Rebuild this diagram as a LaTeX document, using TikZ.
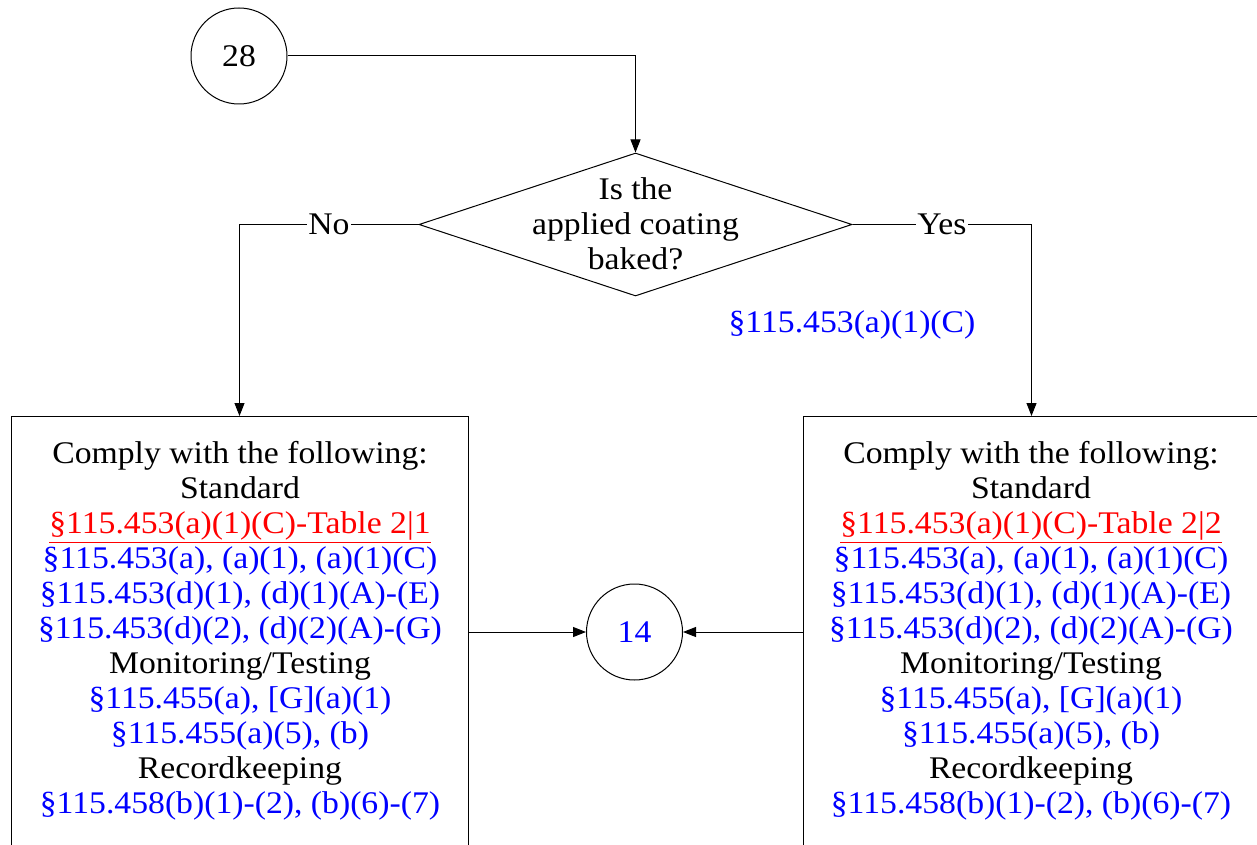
\documentclass[tikz,border=0pt]{standalone}
\usepackage{fontspec}
\setmainfont{Liberation Serif}[FakeStretch=1.07]
\usetikzlibrary{arrows.meta,shapes.geometric}
\definecolor{refblue}{RGB}{0,0,255}
\definecolor{refred}{RGB}{255,0,0}
\newcommand{\bl}[1]{\textcolor{refblue}{#1}}
\newcommand{\rd}[1]{\textcolor{refred}{\underline{#1}}}
\begin{document}
\begin{tikzpicture}[x=1pt,y=-1pt,
  line width=1pt,
  every node/.style={font=\fontsize{31.5}{35}\selectfont},
  conn/.style={draw, -{Triangle[length=13pt,width=10pt]}},
  lbl/.style={fill=white, inner sep=1pt},
  txt/.style={align=center, inner sep=0pt}
]
\useasboundingbox (0,0) rectangle (1257,845);
\node[circle, draw, minimum size=96, inner sep=0] (c28) at (239,56) {28};
\node[diamond, draw, minimum width=433, minimum height=143, inner sep=0, aspect=3] (q) at (635.5,224.5) {};
\node[txt] (qt) at (635.5,224) {Is the\\applied coating\\baked?};
\node[draw, rectangle, minimum width=457, minimum height=500, anchor=north] (L) at (239.5,416) {};
\node[draw, rectangle, minimum width=457, minimum height=500, anchor=north] (R) at (1031.5,416) {};
\node[circle, draw, minimum size=96, inner sep=0, text=refblue] (c14) at (634.5,632) {14};
\node[txt] (Lt) at (240,631) {Comply with the following:\\Standard\\\rd{§115.453(a)(1)(C)-Table 2|1}\\\bl{§115.453(a), (a)(1), (a)(1)(C)}\\\bl{§115.453(d)(1), (d)(1)(A)-(E)}\\\bl{§115.453(d)(2), (d)(2)(A)-(G)}\\Monitoring/Testing\\\bl{§115.455(a), [G](a)(1)}\\\bl{§115.455(a)(5), (b)}\\Recordkeeping\\\bl{§115.458(b)(1)-(2), (b)(6)-(7)}};
\node[txt] (Rt) at (1031,631) {Comply with the following:\\Standard\\\rd{§115.453(a)(1)(C)-Table 2|2}\\\bl{§115.453(a), (a)(1), (a)(1)(C)}\\\bl{§115.453(d)(1), (d)(1)(A)-(E)}\\\bl{§115.453(d)(2), (d)(2)(A)-(G)}\\Monitoring/Testing\\\bl{§115.455(a), [G](a)(1)}\\\bl{§115.455(a)(5), (b)}\\Recordkeeping\\\bl{§115.458(b)(1)-(2), (b)(6)-(7)}};
\node[txt, text=refblue] (ref) at (852,325) {§115.453(a)(1)(C)};
\draw[conn] (c28.east) -| (q.north);
\draw[conn] (q.west) -| node[lbl, pos=0.25] {No} (L.north);
\draw[conn] (q.east) -| node[lbl, pos=0.25] {Yes} (R.north);
\draw[conn] (c14.west -| L.east) -- (c14.west);
\draw[conn] (c14.east -| R.west) -- (c14.east);
\end{tikzpicture}
\end{document}
